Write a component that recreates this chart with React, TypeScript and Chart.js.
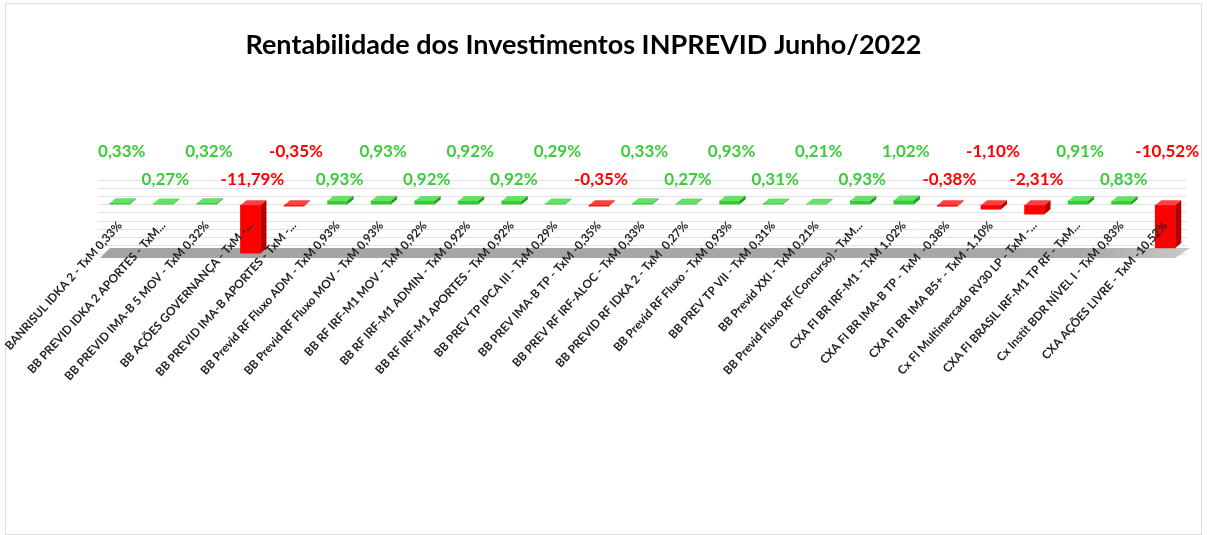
import React, { useEffect, useRef } from 'react';
import { Chart, registerables } from 'chart.js';

Chart.register(...registerables);

const chartTitle = 'Rentabilidade dos Investimentos INPREVID Junho/2022';

const categories = [
  'BANRISUL IDKA 2 - TxM 0,33%',
  'BB PREVID IDKA 2 APORTES - TxM...',
  'BB PREVID IMA-B 5 MOV - TxM 0,32%',
  'BB AÇÕES GOVERNANÇA - TxM -...',
  'BB PREVID IMA-B APORTES - TxM -...',
  'BB Previd RF Fluxo ADM - TxM 0,93%',
  'BB Previd RF Fluxo MOV - TxM 0,93%',
  'BB RF IRF-M1 MOV - TxM 0,92%',
  'BB RF IRF-M1 ADMIN - TxM 0,92%',
  'BB RF IRF-M1 APORTES - TxM 0,92%',
  'BB PREV TP IPCA III - TxM 0,29%',
  'BB PREV IMA-B TP - TxM -0,35%',
  'BB PREV RF IRF-ALOC - TxM 0,33%',
  'BB PREVID RF IDKA 2 - TxM  0,27%',
  'BB Previd RF Fluxo - TxM 0,93%',
  'BB PREV TP VII - TxM 0,31%',
  'BB Previd XXI - TxM 0,21%',
  'BB Previd Fluxo RF (Concurso) - TxM...',
  'CXA FI BR IRF-M1 - TxM 1,02%',
  'CXA FI BR IMA-B TP - TxM  -0,38%',
  'CXA FI BR IMA B5+ - TxM -1,10%',
  'Cx FI Multimercado RV30 LP - TxM -...',
  'CXA FI BRASIL IRF-M1 TP RF - TxM...',
  'Cx Instit BDR NÍVEL I - TxM 0,83%',
  'CXA AÇÕES LIVRE - TxM -10,52%',
];

const returns = [
  0.33, 0.27, 0.32, -11.79, -0.35, 0.93, 0.93, 0.92, 0.92, 0.92, 0.29, -0.35, 0.33,
  0.27, 0.93, 0.31, 0.21, 0.93, 1.02, -0.38, -1.1, -2.31, 0.91, 0.83, -10.52,
];

const yMin = -12;
const yMax = 6;
const yStep = 2;

const GREEN = '#33cc33';
const GREEN_TOP = '#66e066';
const GREEN_SIDE = '#1f9a1f';
const RED = '#ff0000';
const RED_TOP = '#ff4040';
const RED_SIDE = '#b80000';
const LABEL_GREEN = '#3ccc3c';
const LABEL_RED = '#ff0000';
const FONT = 'Lato, "Open Sans", sans-serif';

const fmt = (v: number) => v.toFixed(2).replace('.', ',') + '%';

const framePlugin = {
  id: 'frame',
  beforeDraw(chart: any) {
    const { ctx, width, height } = chart;
    ctx.save();
    ctx.fillStyle = '#ffffff';
    ctx.fillRect(0, 0, width, height);
    ctx.strokeStyle = '#dcdcdc';
    ctx.lineWidth = 1;
    ctx.strokeRect(5.5, 3.5, width - 11, height - 4);
    ctx.fillStyle = '#000000';
    ctx.font = `bold 27px ${FONT}`;
    ctx.textAlign = 'center';
    ctx.textBaseline = 'middle';
    ctx.fillText(chartTitle, width / 2 - 20, 45);
    ctx.restore();
  },
};

const floorPlugin = {
  id: 'floor',
  beforeDatasetsDraw(chart: any) {
    const { ctx, chartArea } = chart;
    const { left, right, bottom } = chartArea;
    ctx.save();
    const g = ctx.createLinearGradient(left, 0, right, 0);
    g.addColorStop(0, '#a3a3a3');
    g.addColorStop(0.9, '#a8a8a8');
    g.addColorStop(1, '#c8c8c8');
    ctx.fillStyle = g;
    ctx.beginPath();
    ctx.moveTo(left + 2, bottom + 4);
    ctx.lineTo(left + 12, bottom - 6);
    ctx.lineTo(right + 3, bottom - 6);
    ctx.lineTo(right - 12, bottom + 4);
    ctx.closePath();
    ctx.fill();
    ctx.restore();
  },
};

const bars3dPlugin = {
  id: 'bars3d',
  afterDatasetsDraw(chart: any) {
    const { ctx } = chart;
    const meta = chart.getDatasetMeta(0);
    const dx = 6;
    const dy = 5;
    ctx.save();
    meta.data.forEach((el: any, i: number) => {
      const v = returns[i];
      const half = el.width / 2;
      const x0 = el.x - half;
      const x1 = el.x + half;
      const top = Math.min(el.y, el.base);
      const bot = Math.max(el.y, el.base);
      const pos = v >= 0;
      ctx.fillStyle = pos ? GREEN_TOP : RED_TOP;
      ctx.beginPath();
      ctx.moveTo(x0, top);
      ctx.lineTo(x1, top);
      ctx.lineTo(x1 + dx, top - dy);
      ctx.lineTo(x0 + dx, top - dy);
      ctx.closePath();
      ctx.fill();
      ctx.fillStyle = pos ? GREEN_SIDE : RED_SIDE;
      ctx.beginPath();
      ctx.moveTo(x1, top);
      ctx.lineTo(x1 + dx, top - dy);
      ctx.lineTo(x1 + dx, bot - dy);
      ctx.lineTo(x1, bot);
      ctx.closePath();
      ctx.fill();
    });
    const y0 = chart.scales.y.getPixelForValue(0);
    ctx.font = `bold 17px ${FONT}`;
    ctx.textAlign = 'center';
    ctx.textBaseline = 'middle';
    meta.data.forEach((el: any, i: number) => {
      const v = returns[i];
      ctx.fillStyle = v >= 0 ? LABEL_GREEN : LABEL_RED;
      const ly = y0 - (i % 2 === 0 ? 53 : 25);
      ctx.fillText(fmt(v), el.x + 2, ly);
    });
    ctx.restore();
  },
};

export default function App() {
  const canvasRef = useRef<HTMLCanvasElement | null>(null);

  useEffect(() => {
    if (!canvasRef.current) return;
    const chart = new Chart(canvasRef.current, {
      type: 'bar',
      data: {
        labels: categories,
        datasets: [
          {
            data: returns,
            backgroundColor: returns.map((v) => (v >= 0 ? GREEN : RED)),
            borderWidth: 0,
            barThickness: 20,
            clip: false as any,
          },
        ],
      },
      options: {
        responsive: false,
        animation: false,
        layout: { padding: { left: 98, right: 20, top: 180, bottom: 281 } },
        plugins: {
          legend: { display: false },
          tooltip: { enabled: false },
          title: { display: false },
        },
        scales: {
          x: {
            type: 'category',
            position: { y: 0 } as any,
            offset: true,
            afterFit(scale: any) {
              scale.paddingLeft = 0;
              scale.paddingRight = 0;
            },
            grid: { display: false, drawTicks: false },
            border: { display: false },
            ticks: {
              z: 1,
              autoSkip: false,
              maxRotation: 48,
              minRotation: 48,
              padding: 14,
              color: '#222222',
              font: { family: FONT, size: 11.8, weight: 'bold' },
            },
          },
          y: {
            min: yMin,
            max: yMax,
            grid: { color: '#e2e2e2', drawTicks: false },
            border: { display: false },
            ticks: { display: false, stepSize: yStep },
          },
        },
      },
      plugins: [framePlugin, floorPlugin, bars3dPlugin],
    });
    return () => chart.destroy();
  }, []);

  return (
    <div style={{ position: 'fixed', left: 0, top: 0, width: 1207, height: 535 }}>
      <canvas ref={canvasRef} width={1207} height={535} />
    </div>
  );
}
